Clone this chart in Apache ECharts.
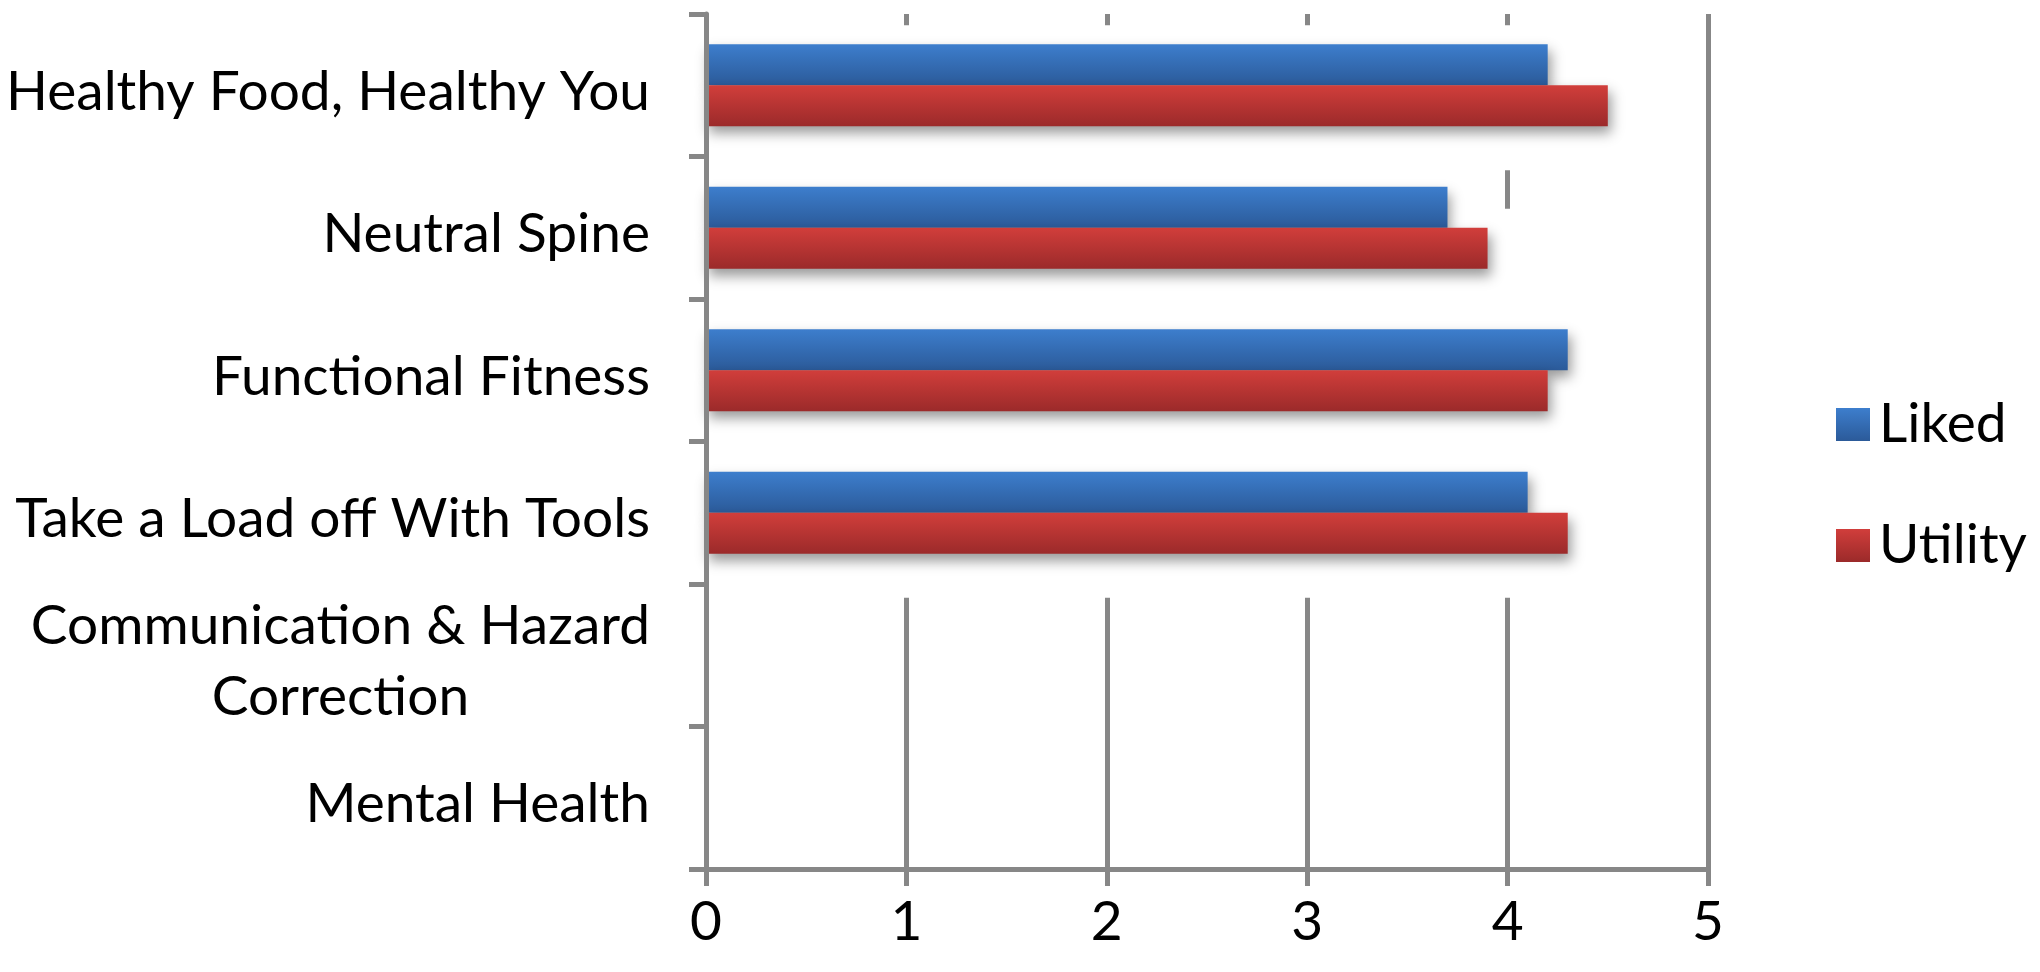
<!DOCTYPE html>
<html>
<head>
<meta charset="utf-8">
<title>Liked vs Utility by module</title>
<script src="https://cdn.jsdelivr.net/npm/echarts@6/dist/echarts.min.js"></script>
<style>
  html, body { margin: 0; padding: 0; background: #ffffff; }
  #chart { width: 2040px; height: 972px; }
</style>
</head>
<body>
<div id="chart"></div>
<script>
// Module names, top to bottom
const categories = [
  'Healthy Food, Healthy You',
  'Neutral Spine',
  'Functional Fitness',
  'Take a Load off With Tools',
  'Communication & Hazard\nCorrection',
  'Mental Health'
];
// Average ratings (no ratings yet for the last two modules)
const likedValues   = [4.2, 3.7, 4.3, 4.1, null, null];
const utilityValues = [4.5, 3.9, 4.2, 4.3, null, null];
const seriesNames = ['Liked', 'Utility'];
const xTicks = [0, 1, 2, 3, 4, 5];

const FONT = 'Lato, "Open Sans", sans-serif';
const FONT_SIZE = 55;
const AXIS_GREY = '#878787';
const CATEGORY_GAP = 0.423;   // share of each band left empty around the bar pair

function vGrad(top, bottom) {
  return new echarts.graphic.LinearGradient(0, 0, 0, 1, [
    { offset: 0, color: top },
    { offset: 1, color: bottom }
  ]);
}

// White backdrop behind every bar (covers the grid where the bar and its shadow sit)
const backdropData = [];
[likedValues, utilityValues].forEach((vals, s) => {
  vals.forEach((v, i) => { if (v != null) backdropData.push([v, i, s]); });
});

const chart = echarts.init(document.getElementById('chart'), null, { renderer: 'canvas' });

chart.setOption({
  backgroundColor: '#ffffff',
  animation: false,
  grid: { left: 706, right: 332, top: 14, bottom: 103, containLabel: false },
  legend: {
    orient: 'vertical',
    left: 1831,
    top: 392,
    itemWidth: 34,
    itemHeight: 33,
    itemGap: 66,
    icon: 'rect',
    data: seriesNames,
    textStyle: {
      fontFamily: FONT, fontSize: FONT_SIZE, color: '#000000',
      padding: [0, 0, 0, 4]
    }
  },
  xAxis: {
    type: 'value',
    min: xTicks[0],
    max: xTicks[xTicks.length - 1],
    interval: 1,
    axisLine: { show: true, onZero: false, lineStyle: { color: AXIS_GREY, width: 5 } },
    axisTick: { show: true, length: 17, lineStyle: { color: AXIS_GREY, width: 5 } },
    splitLine: { show: true, lineStyle: { color: AXIS_GREY, width: 5 } },
    axisLabel: {
      margin: 26,
      fontFamily: FONT, fontSize: FONT_SIZE, color: '#000000',
      formatter: v => String(v)
    }
  },
  yAxis: {
    type: 'category',
    inverse: true,
    data: categories,
    z: 5,
    axisLine: { show: true, lineStyle: { color: AXIS_GREY, width: 5 } },
    axisTick: { show: true, length: 17, alignWithLabel: false, lineStyle: { color: AXIS_GREY, width: 5 } },
    axisLabel: {
      margin: 56,
      fontFamily: FONT, fontSize: FONT_SIZE, color: '#000000',
      lineHeight: 71,
      padding: [14, 0, 0, 0],
      formatter: v => v.split('\n').map(line => '{c|' + line + '}').join('\n'),
      rich: { c: { fontFamily: FONT, fontSize: FONT_SIZE, color: '#000000', lineHeight: 71, align: 'center' } }
    }
  },
  series: [
    {
      name: 'backdrop',
      type: 'custom',
      z: 1,
      silent: true,
      legendHoverLink: false,
      data: backdropData,
      encode: { x: 0, y: 1 },
      renderItem: function (params, api) {
        const cat = api.value(1);
        const end = api.coord([api.value(0), cat]);
        const start = api.coord([0, cat]);
        const band = api.size([0, 1])[1];
        const barH = band * (1 - CATEGORY_GAP) / 2;
        const top = end[1] - barH + api.value(2) * barH;
        return {
          type: 'rect',
          shape: { x: start[0] + 3, y: top - 19, width: end[0] - start[0] + 37, height: barH + 19 + 44 },
          style: { fill: '#ffffff' }
        };
      }
    },
    {
      name: seriesNames[0],
      type: 'bar',
      data: likedValues,
      barGap: '0%',
      barCategoryGap: (CATEGORY_GAP * 100) + '%',
      itemStyle: {
        color: vGrad('#3d7ecd', '#2b5a99'),
        shadowColor: 'rgba(0,0,0,0.40)',
        shadowBlur: 12,
        shadowOffsetX: 3,
        shadowOffsetY: 7
      }
    },
    {
      name: seriesNames[1],
      type: 'bar',
      data: utilityValues,
      barGap: '0%',
      barCategoryGap: (CATEGORY_GAP * 100) + '%',
      itemStyle: {
        color: vGrad('#d13e3b', '#9b2a2a'),
        shadowColor: 'rgba(0,0,0,0.40)',
        shadowBlur: 12,
        shadowOffsetX: 3,
        shadowOffsetY: 7
      }
    }
  ]
});
</script>
</body>
</html>
